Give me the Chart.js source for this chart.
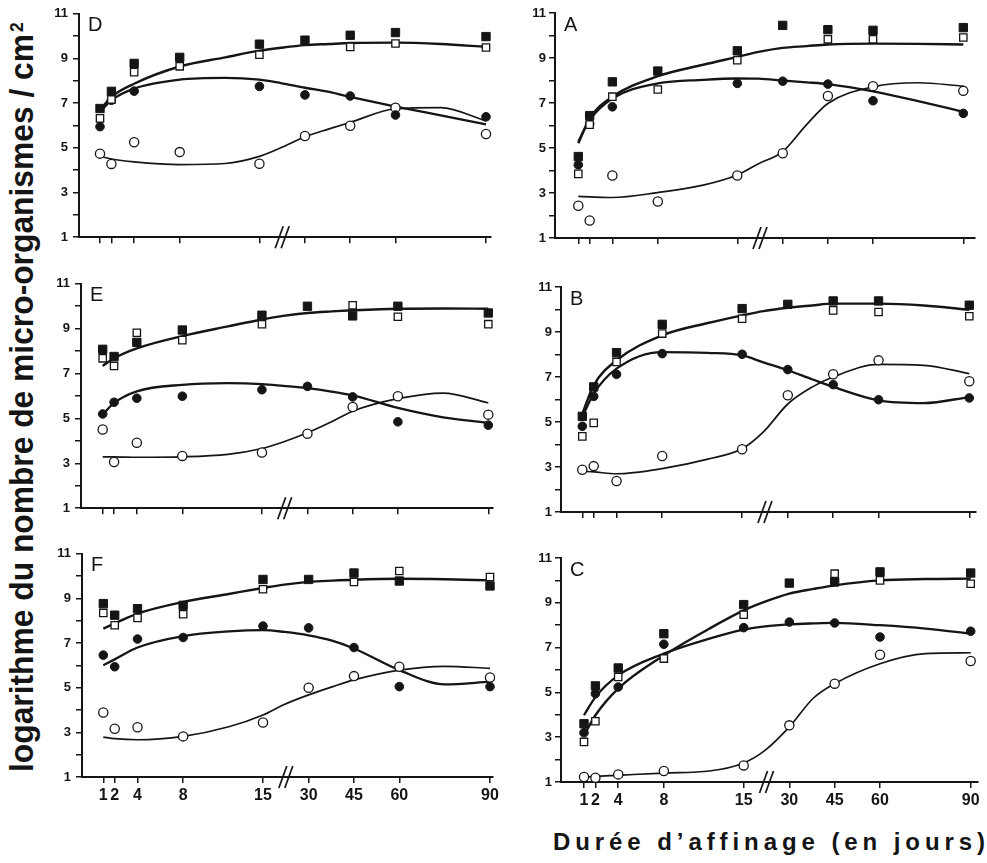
<!DOCTYPE html>
<html><head><meta charset="utf-8">
<script src="https://cdn.jsdelivr.net/npm/chart.js@4.4.1/dist/chart.umd.min.js"></script>
<style>
html,body{margin:0;padding:0;background:#fff;}
body{width:987px;height:863px;position:relative;overflow:hidden;font-family:'Liberation Sans',Arial,sans-serif;}
canvas{position:absolute;}
#ytitle{position:absolute;white-space:nowrap;font-weight:bold;font-size:33px;line-height:36px;transform-origin:0 0;color:#151515;}
#ytitle sup{font-size:55%;vertical-align:top;position:relative;top:-5px;margin-left:2px;}
#xtitle{position:absolute;white-space:nowrap;font-weight:bold;font-size:24px;line-height:24px;color:#151515;}
</style></head><body>
<div id="ytitle">logarithme du nombre de micro-organismes / cm<sup>2</sup></div>
<div id="xtitle">Durée d’affinage (en jours)</div>
<script>
// ---------- data ----------
const days = [1, 2, 4, 8, 15, 30, 45, 60, 90];
const tickDays = [1, 2, 4, 8, 15, 30, 45, 60, 90];
const yLabels = [1, 3, 5, 7, 9, 11];
const curveDays = [1, 2, 4, 8, 12, 15, 22, 30, 38, 45, 60, 75, 90];
const breakDay = 22.5;

const D_sqFilled = [6.76, 7.53, 8.78, 9.05, 9.64, 9.82, 10.04, 10.16, 9.98];
const D_sqOpen   = [6.32, 7.16, 8.39, 8.65, 9.17, null, 9.52, 9.67, 9.49];
const D_ciFilled = [5.95, 7.13, 7.54, null, 7.75, 7.37, 7.32, 6.47, 6.39];
const D_ciOpen   = [4.74, 4.28, 5.25, 4.81, 4.29, 5.53, 5.99, 6.80, 5.62];
const D_sqCurve  = [6.69, 7.28, 7.87, 8.64, 9.05, 9.35, 9.48, 9.60, 9.65, 9.69, 9.71, 9.65, 9.52];
const D_cfCurve  = [6.61, 7.13, 7.65, 8.05, 8.13, 8.05, 7.90, 7.69, 7.50, 7.28, 6.85, 6.45, 6.05];
const D_coCurve  = [4.62, 4.50, 4.37, 4.25, 4.30, 4.62, 5.00, 5.50, 5.85, 6.14, 6.75, 6.80, 6.20];

const A_sqFilled = [4.62, 6.44, 7.94, 8.42, 9.32, 10.45, 10.26, 10.23, 10.35];
const A_sqOpen   = [3.85, 6.04, 7.28, 7.60, 8.90, null, 9.83, 9.83, 9.91];
const A_ciFilled = [4.25, 6.07, 6.83, null, 7.87, 7.97, 7.84, 7.10, 6.54];
const A_ciOpen   = [2.43, 1.78, 3.78, 2.62, 3.78, 4.77, 7.31, 7.75, 7.54];
const A_sqCurve  = [5.21, 6.32, 7.28, 8.19, 8.70, 9.05, 9.27, 9.45, 9.53, 9.60, 9.64, 9.63, 9.60];
const A_cfCurve  = [5.28, 6.24, 7.20, 7.87, 8.03, 8.09, 8.08, 8.00, 7.92, 7.84, 7.52, 7.08, 6.61];
const A_coCurve  = [2.85, 2.83, 2.80, 3.02, 3.35, 3.80, 4.30, 4.84, 6.05, 6.98, 7.72, 7.90, 7.75];

const E_sqFilled = [8.08, 7.76, 8.39, 8.94, 9.60, 10.00, 9.57, 10.00, 9.70];
const E_sqOpen   = [7.68, 7.34, 8.82, 8.49, 9.20, null, 10.04, 9.53, 9.20];
const E_ciFilled = [5.20, 5.72, 5.90, 5.99, 6.28, 6.43, 5.96, 4.85, 4.70];
const E_ciOpen   = [4.51, 3.06, 3.92, 3.33, 3.48, 4.32, 5.51, 5.99, 5.17];
const E_sqCurve  = [7.34, 7.68, 8.12, 8.67, 9.10, 9.41, 9.57, 9.70, 9.77, 9.82, 9.89, 9.90, 9.89];
const E_cfCurve  = [5.17, 5.69, 6.21, 6.50, 6.57, 6.53, 6.45, 6.35, 6.20, 6.03, 5.47, 5.05, 4.80];
const E_coCurve  = [3.29, 3.29, 3.27, 3.29, 3.40, 3.66, 3.95, 4.36, 4.85, 5.32, 5.88, 6.13, 5.69];

const B_sqFilled = [5.25, 6.56, 8.08, 9.34, 10.04, 10.23, 10.38, 10.38, 10.19];
const B_sqOpen   = [4.36, 4.96, 7.67, 8.93, 9.59, null, 9.96, 9.89, 9.70];
const B_ciFilled = [4.81, 6.14, 7.12, 8.04, 8.01, 7.33, 6.66, 5.99, 6.07];
const B_ciOpen   = [2.88, 3.04, 2.38, 3.49, 3.79, 6.19, 7.12, 7.74, 6.81];
const B_sqCurve  = [5.37, 6.63, 7.74, 8.85, 9.40, 9.74, 9.93, 10.08, 10.18, 10.26, 10.26, 10.18, 9.99];
const B_cfCurve  = [5.22, 6.26, 7.37, 8.11, 8.07, 7.96, 7.65, 7.30, 6.90, 6.56, 5.96, 5.84, 6.11];
const B_coCurve  = [2.81, 2.78, 2.70, 2.93, 3.35, 3.81, 4.56, 5.80, 6.55, 7.00, 7.56, 7.52, 7.15];

const F_sqFilled = [8.77, 8.25, 8.54, 8.69, 9.85, 9.85, 10.14, 9.78, 9.56];
const F_sqOpen   = [8.35, 7.80, 8.13, 8.29, 9.41, null, 9.74, 10.23, 9.96];
const F_ciFilled = [6.46, 5.94, 7.18, 7.25, 7.76, 7.68, 6.80, 5.05, 5.05];
const F_ciOpen   = [3.89, 3.16, 3.23, 2.82, 3.44, 5.00, 5.52, 5.94, 5.46];
const F_sqCurve  = [7.65, 7.88, 8.32, 8.84, 9.20, 9.47, 9.62, 9.74, 9.80, 9.84, 9.88, 9.86, 9.81];
const F_cfCurve  = [6.01, 6.27, 6.80, 7.31, 7.52, 7.58, 7.50, 7.35, 7.10, 6.76, 5.79, 5.15, 5.27];
const F_coCurve  = [2.79, 2.72, 2.67, 2.82, 3.25, 3.78, 4.25, 4.68, 5.05, 5.35, 5.79, 5.96, 5.87];

const C_sqFilled = [3.60, 5.29, 6.09, 7.62, 8.92, 9.88, 9.93, 10.38, 10.33];
const C_sqOpen   = [2.79, 3.71, 5.69, 6.51, 8.47, null, 10.30, 10.00, 9.85];
const C_ciFilled = [3.20, 4.94, 5.24, 7.15, 7.89, 8.14, 8.10, 7.47, 7.73];
const C_ciOpen   = [1.22, 1.19, 1.34, 1.49, 1.74, 3.53, 5.39, 6.68, 6.40];
const C_sqCurve  = [3.08, 3.98, 5.17, 6.65, 7.85, 8.66, 9.05, 9.41, 9.62, 9.78, 10.00, 10.06, 10.08];
const C_cfCurve  = [3.98, 4.79, 5.76, 6.73, 7.40, 7.80, 7.95, 8.04, 8.08, 8.10, 8.00, 7.85, 7.62];
const C_coCurve  = [1.22, 1.25, 1.30, 1.40, 1.49, 1.85, 2.41, 3.46, 4.75, 5.39, 6.28, 6.73, 6.77];

// ---------- layout (pixel geometry of each panel) ----------
const panels = [
  {letter:'D', L:79,  T:13,  B:238, R:491, p1:100.0, p90:486.0, labels:false,
   s:[D_sqFilled,D_sqOpen,D_ciFilled,D_ciOpen], c:[D_sqCurve,D_cfCurve,D_coCurve]},
  {letter:'A', L:555, T:13,  B:238, R:975, p1:578.3, p90:963.3, labels:false,
   s:[A_sqFilled,A_sqOpen,A_ciFilled,A_ciOpen], c:[A_sqCurve,A_cfCurve,A_coCurve]},
  {letter:'E', L:81,  T:283, B:509, R:493, p1:102.7, p90:488.3, labels:false,
   s:[E_sqFilled,E_sqOpen,E_ciFilled,E_ciOpen], c:[E_sqCurve,E_cfCurve,E_coCurve]},
  {letter:'B', L:561, T:287, B:512, R:976, p1:582.3, p90:969.3, labels:false,
   s:[B_sqFilled,B_sqOpen,B_ciFilled,B_ciOpen], c:[B_sqCurve,B_cfCurve,B_coCurve]},
  {letter:'F', L:82,  T:553, B:777, R:493, p1:103.3, p90:490.0, labels:true,
   s:[F_sqFilled,F_sqOpen,F_ciFilled,F_ciOpen], c:[F_sqCurve,F_cfCurve,F_coCurve]},
  {letter:'C', L:561, T:558, B:782, R:978, p1:584.0, p90:970.7, labels:true,
   s:[C_sqFilled,C_sqOpen,C_ciFilled,C_ciOpen], c:[C_sqCurve,C_cfCurve,C_coCurve]}
];

// ---------- broken day axis ----------
function toAxis(d){ if (d <= 15) return d; if (d < 30) return 15 + (d - 15) * 4 / 15; return 19 + (d - 30) * 0.265; }
function fromAxis(u){ if (u <= 15) return u; if (u < 19) return 15 + (u - 15) * 15 / 4; return 30 + (u - 19) / 0.265; }
class BrokenScale extends Chart.LinearScale {
  determineDataLimits(){
    this.min = this.options.min;
    this.max = this.options.max;
  }
  getUserBounds(){
    return { min: fromAxis(this.options.min), max: fromAxis(this.options.max), minDefined: true, maxDefined: true };
  }
  getPixelForValue(v){ return v === null || v === undefined ? NaN : super.getPixelForValue(toAxis(v)); }
  getValueForPixel(p){ return fromAxis(super.getValueForPixel(p)); }
}
BrokenScale.id = 'broken';
BrokenScale.defaults = Chart.LinearScale.defaults;
Chart.register(BrokenScale);

Chart.defaults.font.family = "'Liberation Sans', Arial, sans-serif";
Chart.defaults.color = '#151515';

// narrow font for the x tick labels if available
const probe = document.createElement('canvas').getContext('2d');
probe.font = "bold 40px 'Liberation Sans Narrow', monospace";
const wN = probe.measureText('1530456090').width;
probe.font = "bold 40px monospace";
const wM = probe.measureText('1530456090').width;
const hasNarrow = Math.abs(wN - wM) > 0.5;
const xTickFont = hasNarrow ? { family:"'Liberation Sans Narrow', 'Liberation Sans', Arial", size:18, weight:'bold' }
                            : { size:16, weight:'bold' };

const INK = '#151515';
const YW = 45, PADT = 12, PADR = 12;

function pts(arr){ return days.map((d,i)=> arr[i]==null ? null : {x:d, y:arr[i]}).filter(Boolean); }
function crv(arr){ return curveDays.map((d,i)=> ({x:d, y:arr[i]})).filter(p => p.y != null); }

function decoPlugin(letter){
  return {
    id:'deco',
    afterDraw(chart){
      const ctx = chart.ctx, a = chart.chartArea, xs = chart.scales.x;
      ctx.save();
      ctx.fillStyle = INK;
      ctx.font = "20px 'Liberation Sans', Arial, sans-serif";
      ctx.textBaseline = 'top';
      ctx.fillText(letter, a.left + 9, a.top + 2);
      const px = xs.getPixelForValue(breakDay), y = a.bottom;
      ctx.strokeStyle = INK; ctx.lineWidth = 1.7;
      [-3, 3].forEach(off => {
        ctx.beginPath();
        ctx.moveTo(px + off - 4, y + 11);
        ctx.lineTo(px + off + 4, y - 11);
        ctx.stroke();
      });
      ctx.restore();
    }
  };
}

panels.forEach(p => {
  const xH = p.labels ? 34 : 12;
  const cv = document.createElement('canvas');
  const w = Math.round(p.R - p.L + YW + PADR), h = Math.round(p.B - p.T + PADT + xH);
  cv.width = w; cv.height = h;
  cv.style.left = (p.L - YW) + 'px'; cv.style.top = (p.T - PADT) + 'px';
  cv.style.width = w + 'px'; cv.style.height = h + 'px';
  document.body.appendChild(cv);
  const ppu = (p.p90 - p.p1) / (toAxis(90) - toAxis(1));
  const xmin = 1 - (p.p1 - p.L) / ppu;
  const xmax = 1 + (p.R - p.p1) / ppu;

  const mk = (arr, style, r, filled, order) => ({
    type:'line', data: pts(arr), showLine:false, order, clip:false,
    pointStyle: style, pointRadius: r, pointHoverRadius: r,
    pointBackgroundColor: filled ? INK : '#ffffff', pointBorderColor: INK,
    pointBorderWidth: filled ? 1 : 1.3
  });
  const cl = (arr, w) => ({
    type:'line', data: crv(arr), order: 10, clip:false,
    borderColor: INK, borderWidth: w, pointRadius: 0, fill:false,
    cubicInterpolationMode:'monotone'
  });

  new Chart(cv, {
    type:'line',
    data:{ datasets:[
      mk(p.s[0], 'rect', 5.9, true, 0),
      mk(p.s[1], 'rect', 5.2, false, 1),
      mk(p.s[2], 'circle', 4.3, true, 2),
      mk(p.s[3], 'circle', 4.6, false, 3),
      cl(p.c[0], 2.4), cl(p.c[1], 2.3), cl(p.c[2], 1.7)
    ]},
    options:{
      responsive:false, animation:false, devicePixelRatio: 1,
      layout:{ padding:{ top:PADT, right:PADR, left:0, bottom:0 } },
      plugins:{ legend:{display:false}, tooltip:{enabled:false} },
      events: [],
      scales:{
        x:{
          type:'broken', min:xmin, max:xmax,
          afterBuildTicks: s => { s.ticks = tickDays.map(v => ({value:v})); },
          afterFit: s => { s.height = xH; },
          ticks:{ autoSkip:false, maxRotation:0, minRotation:0, padding:3, color:INK,
                  font: xTickFont,
                  callback: v => p.labels ? String(v) : '' },
          grid:{ display:true, drawOnChartArea:false, drawTicks:true, tickLength:6, color:INK, lineWidth:1.5 },
          border:{ display:true, color:INK, width:2 }
        },
        y:{
          type:'linear', min:1, max:11,
          afterFit: s => { s.width = YW; },
          ticks:{ stepSize:1, autoSkip:false, padding: p.L < 300 ? 5 : 3, color:INK,
                  font:{ size:13, weight:'bold' },
                  callback: v => yLabels.includes(v) ? String(v) : '' },
          grid:{ display:true, drawOnChartArea:false, drawTicks:true, tickLength:6, color:INK, lineWidth:1.5 },
          border:{ display:true, color:INK, width:2 }
        }
      }
    },
    plugins:[decoPlugin(p.letter)]
  });
});

// ---------- titles ----------
const yt = document.getElementById('ytitle');
const yw = yt.offsetWidth;
const yk = 750 / yw;
yt.style.left = '4px';
yt.style.top = '772px';
yt.style.transform = 'rotate(-90deg) scaleX(' + yk + ')';

const xt = document.getElementById('xtitle');
const txt = xt.textContent;
const xw = xt.offsetWidth;
const ls = (432 - xw) / (txt.length - 1);
xt.style.letterSpacing = ls + 'px';
xt.style.left = '553px';
xt.style.top = '830px';
</script>
</body></html>
